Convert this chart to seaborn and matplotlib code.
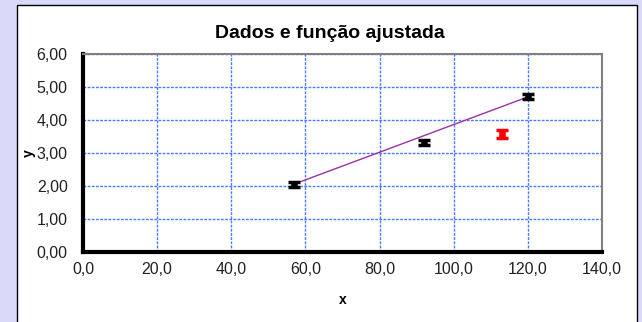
import matplotlib
matplotlib.use("Agg")
import matplotlib.pyplot as plt
from matplotlib.patches import Rectangle
from matplotlib.ticker import FuncFormatter, MultipleLocator
import seaborn as sns
import pandas as pd

# Measured points (x, y, uncertainty in y)
x_data = [57.0, 92.0, 120.0]
y_data = [2.05, 3.32, 4.72]
y_err = [0.08, 0.08, 0.07]

# Point left out of the fit
x_out = [113.0]
y_out = [3.58]
y_out_err = [0.12]

# Fitted straight line, evaluated at the ends of the fitted range
x_fit = [57.0, 120.0]
y_fit = [2.06, 4.70]

sns.set_style("white")
plt.rcParams["font.family"] = ["Liberation Sans", "DejaVu Sans"]

fig = plt.figure(figsize=(6.42, 3.22), dpi=100)
fig.patch.set_facecolor("#d9d9fa")

# White chart panel with a thin black frame
panel = Rectangle((17 / 642, -0.05), (637 - 17) / 642, (322 - 5) / 322 + 0.05,
                  transform=fig.transFigure, facecolor="white",
                  edgecolor="black", linewidth=1.0, zorder=-10)
fig.patches.append(panel)

ax = fig.add_axes([83 / 642, (322 - 252) / 322, (602 - 83) / 642, (252 - 54) / 322])
ax.set_facecolor("white")

fit_df = pd.DataFrame({"x": x_fit, "y": y_fit})
sns.lineplot(data=fit_df, x="x", y="y", ax=ax, color="#9b30a8", linewidth=1.0, zorder=3)

pts = pd.DataFrame({"x": x_data, "y": y_data})
ax.errorbar(x_data, y_data, yerr=y_err, fmt="none", ecolor="black",
            elinewidth=3, capsize=4, capthick=2.5, zorder=4)
sns.scatterplot(data=pts, x="x", y="y", ax=ax, marker="s", s=22,
                color="black", edgecolor="black", zorder=5)

out = pd.DataFrame({"x": x_out, "y": y_out})
ax.errorbar(x_out, y_out, yerr=y_out_err, fmt="none", ecolor="red",
            elinewidth=3, capsize=4, capthick=2.5, zorder=4)
sns.scatterplot(data=out, x="x", y="y", ax=ax, marker="s", s=22,
                color="red", edgecolor="red", zorder=5)

ax.set_xlim(0, 140)
ax.set_ylim(0, 6)
ax.xaxis.set_major_locator(MultipleLocator(20))
ax.yaxis.set_major_locator(MultipleLocator(1))
ax.xaxis.set_major_formatter(FuncFormatter(lambda v, p: f"{v:.1f}".replace(".", ",")))
ax.yaxis.set_major_formatter(FuncFormatter(lambda v, p: f"{v:.2f}".replace(".", ",")))

ax.grid(True, color="#4a7bff", linestyle=(0, (2, 1)), linewidth=1.0)
ax.set_axisbelow(True)

for side in ("top", "right"):
    ax.spines[side].set_color("#808080")
    ax.spines[side].set_linewidth(1.5)
for side in ("left", "bottom"):
    ax.spines[side].set_color("black")
    ax.spines[side].set_linewidth(3)

ax.tick_params(axis="both", direction="out", length=3, width=3, color="black",
               labelsize=11.5, labelcolor="#222222")
ax.tick_params(axis="x", pad=4)
ax.tick_params(axis="y", pad=8)

ax.set_xlabel("x", fontsize=10, fontweight="bold", labelpad=12, color="black")
ax.set_ylabel("y", fontsize=10, fontweight="bold", color="black")
ax.yaxis.set_label_coords(-0.09, 0.5)

fig.text(330 / 642, 1 - 33 / 322, "Dados e função ajustada", ha="center", va="center",
         fontsize=14, fontweight="bold", color="black")

fig.savefig("out.png", dpi=100)
